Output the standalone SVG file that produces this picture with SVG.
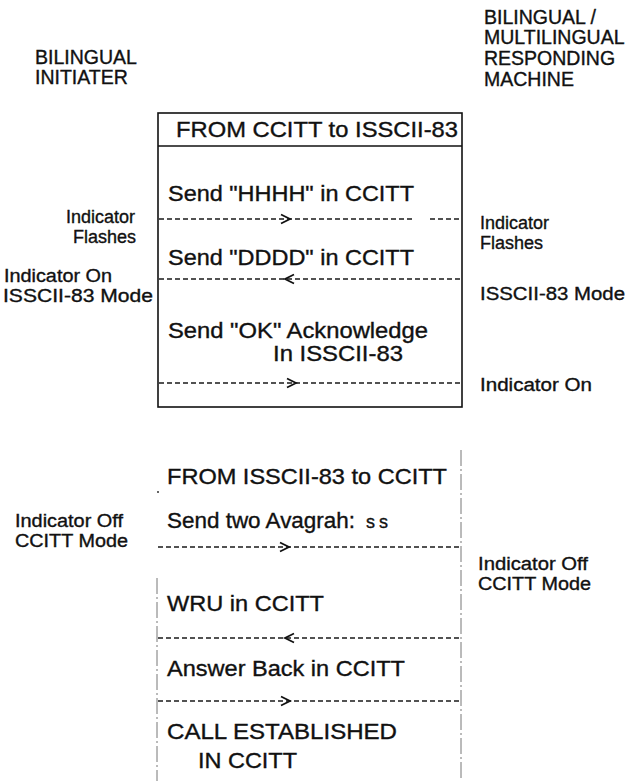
<svg xmlns="http://www.w3.org/2000/svg" width="636" height="781" viewBox="0 0 636 781">
<style>
text{font-family:"Liberation Sans",Arial,Helvetica,sans-serif;fill:#111;stroke:#111;stroke-width:0.35px}
.hd{font-size:19.5px}
.bx{font-size:21.5px}
.lb{font-size:18px}
.box{fill:none;stroke:#111;stroke-width:1.6}
.dl{fill:none;stroke:#1a1a1a;stroke-width:1.4;stroke-dasharray:5 3}
.fb{fill:none;stroke:#777;stroke-width:1;stroke-dasharray:16 3 2 3}
.chev{fill:none;stroke:#111;stroke-width:1.8}
</style>
<defs>
<path id="chevR" class="chev" d="M-5,-4.5 L4,0 L-5,4.5"/>
<path id="chevL" class="chev" d="M5,-4.5 L-4,0 L5,4.5"/>
</defs>

<g id="initiator-header">
<text class="hd" x="35" y="64">BILINGUAL</text>
<text class="hd" x="35" y="84">INITIATER</text>
</g>
<g id="responder-header">
<text class="hd" x="484" y="24">BILINGUAL /</text>
<text class="hd" x="484" y="44">MULTILINGUAL</text>
<text class="hd" x="484" y="65">RESPONDING</text>
<text class="hd" x="484" y="86">MACHINE</text>
</g>

<g id="section-ccitt-to-isscii">
<rect class="box" x="158" y="113" width="304" height="294"/>
<line class="box" x1="158" y1="146" x2="462" y2="146"/>
<text class="bx" x="176" y="137" textLength="282" lengthAdjust="spacingAndGlyphs">FROM CCITT to ISSCII-83</text>
<text class="bx" x="168" y="201" textLength="246" lengthAdjust="spacingAndGlyphs">Send "HHHH" in CCITT</text>
<text class="bx" x="168" y="265" textLength="246" lengthAdjust="spacingAndGlyphs">Send "DDDD" in CCITT</text>
<text class="bx" x="168" y="338" textLength="260" lengthAdjust="spacingAndGlyphs">Send "OK" Acknowledge</text>
<text class="bx" x="273" y="361" textLength="130" lengthAdjust="spacingAndGlyphs">In ISSCII-83</text>
</g>

<g id="section-isscii-to-ccitt">
<text class="bx" x="167" y="484" textLength="280" lengthAdjust="spacingAndGlyphs">FROM ISSCII-83 to CCITT</text>
<text class="bx" x="167" y="528" textLength="188" lengthAdjust="spacingAndGlyphs">Send two Avagrah:</text>
<text class="lb" x="366" y="528" font-size="15" letter-spacing="4">ss</text>
<text class="bx" x="167" y="611" textLength="157" lengthAdjust="spacingAndGlyphs">WRU in CCITT</text>
<text class="bx" x="167" y="676" textLength="238" lengthAdjust="spacingAndGlyphs">Answer Back in CCITT</text>
<text class="bx" x="167" y="739" textLength="230" lengthAdjust="spacingAndGlyphs">CALL ESTABLISHED</text>
<text class="bx" x="198" y="768" textLength="99" lengthAdjust="spacingAndGlyphs">IN CCITT</text>
<line class="fb" x1="461" y1="450" x2="461" y2="781"/>
<line class="fb" x1="157" y1="578" x2="157" y2="781"/>
<circle cx="158" cy="492" r="1" fill="#333"/>
</g>

<g id="initiator-labels">
<text class="lb" x="66" y="223">Indicator</text>
<text class="lb" x="73" y="243">Flashes</text>
<text class="lb" x="4" y="282" textLength="108" lengthAdjust="spacingAndGlyphs">Indicator On</text>
<text class="lb" x="3" y="302" textLength="150" lengthAdjust="spacingAndGlyphs">ISSCII-83 Mode</text>
<text class="lb" x="15" y="527" textLength="108" lengthAdjust="spacingAndGlyphs">Indicator Off</text>
<text class="lb" x="15" y="547" textLength="113" lengthAdjust="spacingAndGlyphs">CCITT Mode</text>
</g>
<g id="responder-labels">
<text class="lb" x="480" y="229">Indicator</text>
<text class="lb" x="480" y="249">Flashes</text>
<text class="lb" x="480" y="300" textLength="145" lengthAdjust="spacingAndGlyphs">ISSCII-83 Mode</text>
<text class="lb" x="480" y="391" textLength="112" lengthAdjust="spacingAndGlyphs">Indicator On</text>
<text class="lb" x="478" y="570" textLength="110" lengthAdjust="spacingAndGlyphs">Indicator Off</text>
<text class="lb" x="478" y="590" textLength="113" lengthAdjust="spacingAndGlyphs">CCITT Mode</text>
</g>

<g id="connectors">
<line class="dl" x1="159" y1="219" x2="414" y2="219"/>
<line class="dl" x1="430" y1="219" x2="462" y2="219"/>
<use href="#chevR" x="286" y="219"/>
<line class="dl" x1="159" y1="279" x2="462" y2="279"/>
<use href="#chevL" x="289" y="279"/>
<line class="dl" x1="159" y1="383" x2="462" y2="383"/>
<use href="#chevR" x="292" y="383"/>
<line class="dl" x1="158" y1="547" x2="462" y2="547"/>
<use href="#chevR" x="285" y="547"/>
<line class="dl" x1="158" y1="638" x2="462" y2="638"/>
<use href="#chevL" x="289" y="638"/>
<line class="dl" x1="158" y1="701" x2="462" y2="701"/>
<use href="#chevR" x="286" y="701"/>
</g>
</svg>
